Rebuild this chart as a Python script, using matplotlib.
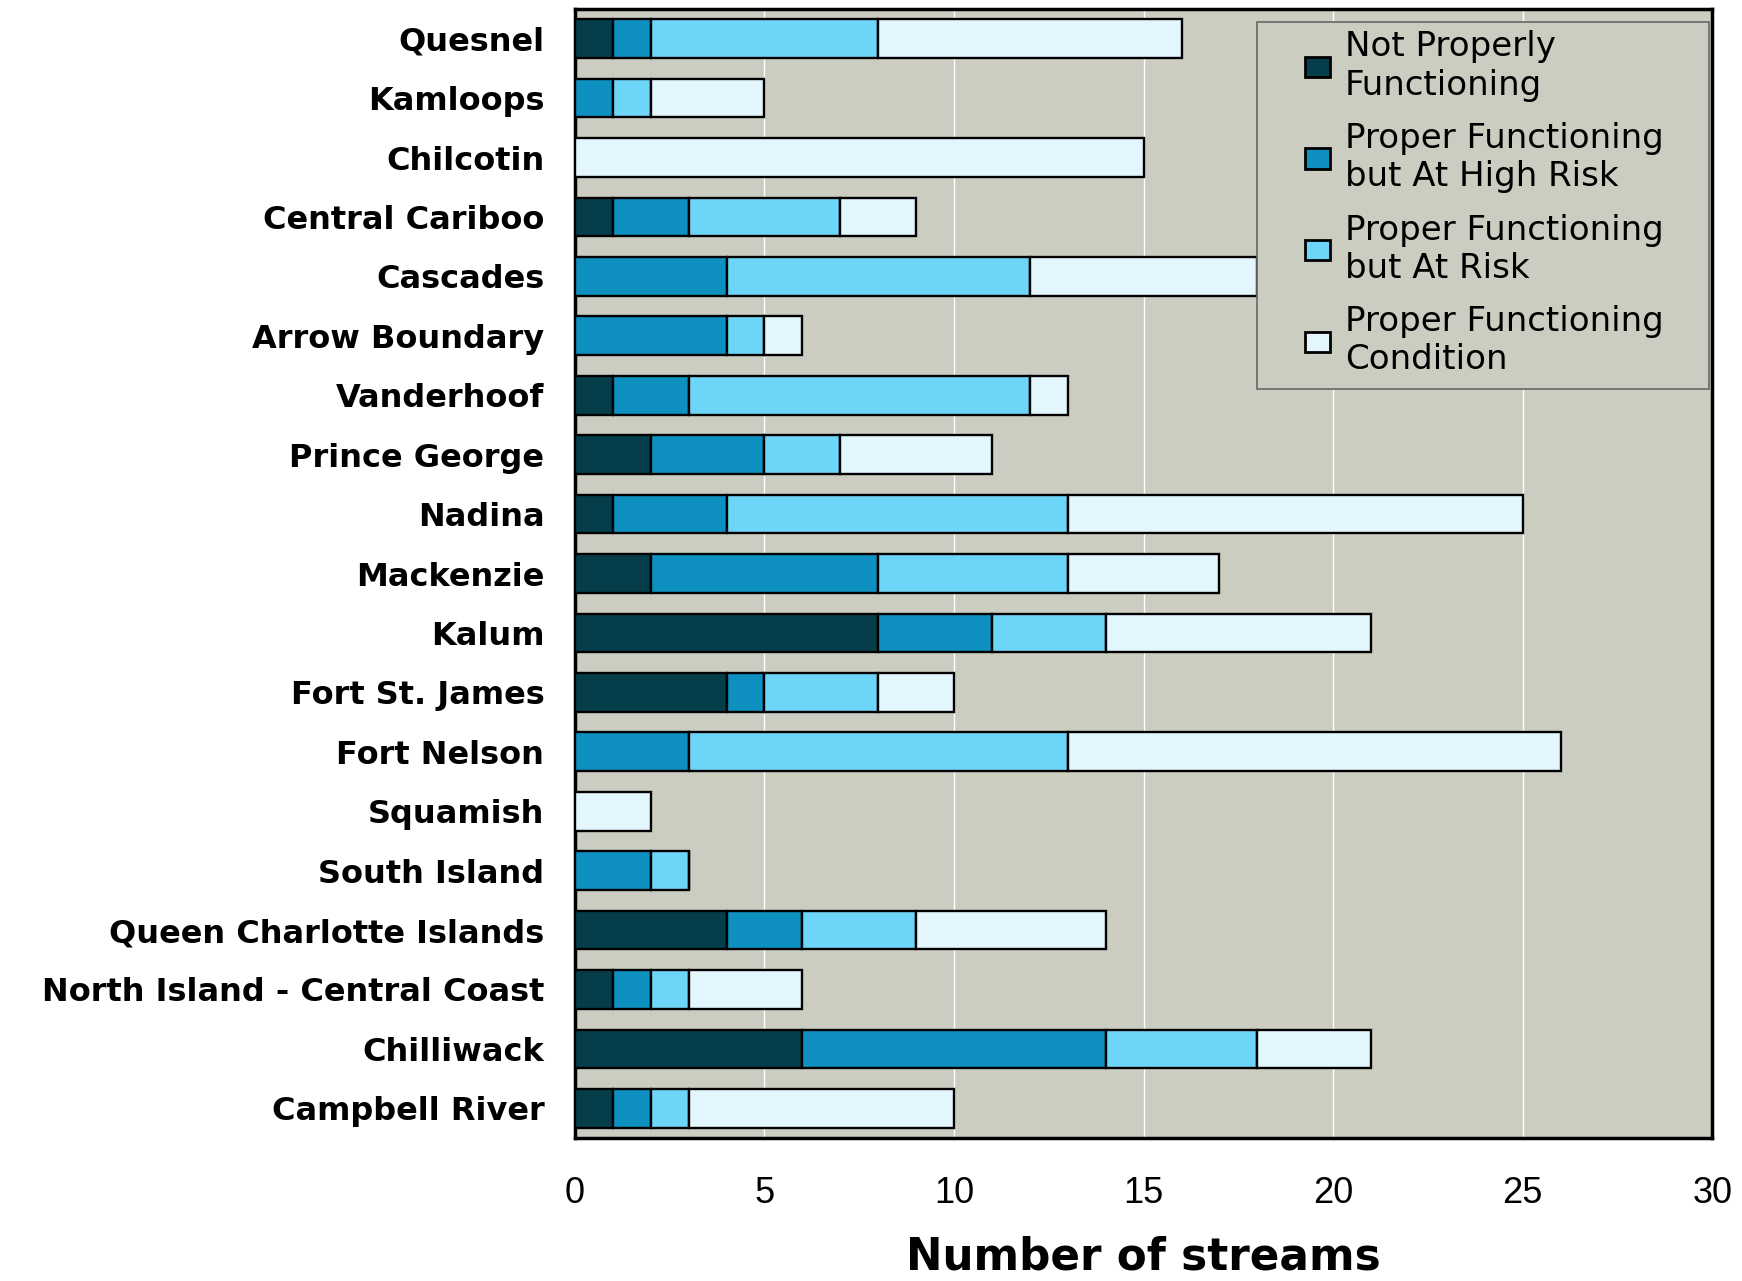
import numpy as np
import matplotlib
matplotlib.use("Agg")
import matplotlib.pyplot as plt
from matplotlib.patches import Rectangle
from matplotlib.legend_handler import HandlerPatch

plt.rcParams['font.family'] = ['DejaVu Sans']

regions = ['Quesnel', 'Kamloops', 'Chilcotin', 'Central Cariboo', 'Cascades',
           'Arrow Boundary', 'Vanderhoof', 'Prince George', 'Nadina', 'Mackenzie',
           'Kalum', 'Fort St. James', 'Fort Nelson', 'Squamish', 'South Island',
           'Queen Charlotte Islands', 'North Island - Central Coast', 'Chilliwack',
           'Campbell River']
not_proper = [1, 0, 0, 1, 0, 0, 1, 2, 1, 2, 8, 4, 0, 0, 0, 4, 1, 6, 1]
high_risk = [1, 1, 0, 2, 4, 4, 2, 3, 3, 6, 3, 1, 3, 0, 2, 2, 1, 8, 1]
at_risk = [6, 1, 0, 4, 8, 1, 9, 2, 9, 5, 3, 3, 10, 0, 1, 3, 1, 4, 1]
proper = [8, 3, 15, 2, 6, 1, 1, 4, 12, 4, 7, 2, 13, 2, 0, 5, 3, 3, 7]

series = [not_proper, high_risk, at_risk, proper]
labels = ['Not Properly\nFunctioning', 'Proper Functioning\nbut At High Risk',
          'Proper Functioning\nbut At Risk', 'Proper Functioning\nCondition']
colors = ['#053d4b', '#0e90c0', '#6dd5f7', '#e3f5fd']
bg = '#cccdc1'

fig = plt.figure(figsize=(17.42, 12.81), dpi=100)
ax = fig.add_axes([0.330, 0.1116, 0.653, 0.8814])
ax.set_facecolor(bg)

y = np.arange(len(regions))
left = np.zeros(len(regions))
for vals, lab, col in zip(series, labels, colors):
    vals = np.array(vals)
    ax.barh(y, vals, left=left, height=0.65, color=col, edgecolor='black',
            linewidth=1.7, label=lab, zorder=3)
    left += vals

ax.set_xlim(0, 30)
ax.set_ylim(len(regions) - 0.5, -0.5)
ax.set_xticks(range(0, 31, 5))
ax.set_yticks(y)
ax.set_yticklabels(regions, fontsize=23, fontweight='bold')
ax.tick_params(axis='x', labelsize=26, length=0, pad=27)
ax.tick_params(axis='y', length=0, pad=22)
for t in ax.get_xticklabels():
    t.set_family('Liberation Sans')
ax.xaxis.grid(True, color='white', linewidth=1, zorder=0)
ax.set_axisbelow(True)
for sp in ax.spines.values():
    sp.set_linewidth(2.5)
    sp.set_color('black')

ax.set_xlabel('Number of streams', fontsize=31.5, fontweight='bold', labelpad=18)

# legend box drawn separately so the wide left margin matches
ax.add_patch(Rectangle((0.5998, 0.6634), 0.3976, 0.3251, transform=ax.transAxes,
                       facecolor=bg, edgecolor='#666666', linewidth=1.2, zorder=5))


def square(legend, orig_handle, xdescent, ydescent, width, height, fontsize):
    return Rectangle((-xdescent, -ydescent), width, height)


leg = ax.legend(loc='upper left', bbox_to_anchor=(0.642, 0.981), fontsize=24.5,
                frameon=False, handlelength=0.72, handleheight=0.55,
                labelspacing=0.6, borderpad=0, borderaxespad=0, handletextpad=0.45,
                handler_map={Rectangle: HandlerPatch(patch_func=square)})
leg.set_zorder(6)
for h in leg.legend_handles:
    h.set_linewidth(2)
    h.set_edgecolor('black')

fig.savefig('out.png', dpi=100)
